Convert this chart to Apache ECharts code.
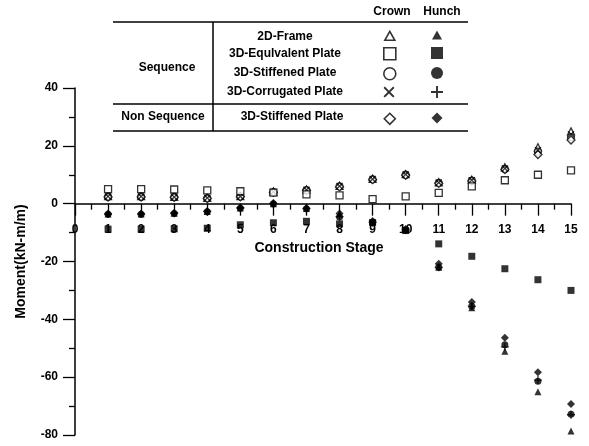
<!DOCTYPE html>
<html>
<head>
<meta charset="utf-8">
<script src="https://cdn.jsdelivr.net/npm/echarts@6/dist/echarts.min.js"></script>
<style>
html,body{margin:0;padding:0;background:#fff;}
#chart{width:589px;height:446px;}
</style>
</head>
<body>
<div id="chart"></div>
<script>
const stages = [1, 2, 3, 4, 5, 6, 7, 8, 9, 10, 11, 12, 13, 14, 15];
const xTicks = [0, 1, 2, 3, 4, 5, 6, 7, 8, 9, 10, 11, 12, 13, 14, 15];
const yTicks = [-80, -60, -40, -20, 0, 20, 40];

const frame2dCrown = [2.6, 2.6, 2.4, 2.0, 2.6, 4.2, 4.9, 6.2, 8.6, 10.2, 7.4, 8.3, 12.6, 19.5, 25.0];
const frame2dHunch = [-3.6, -3.6, -3.3, -2.7, -1.5, 0.0, -1.7, -3.6, -6.2, -9.0, -22.0, -36.0, -51.0, -65.0, -78.6];
const equivCrown = [5.0, 5.0, 4.9, 4.6, 4.3, 3.8, 3.2, 2.9, 1.6, 2.5, 3.7, 6.0, 8.1, 10.0, 11.5];
const equivHunch = [-8.8, -8.8, -8.7, -8.5, -7.3, -6.6, -6.1, -7.0, -6.5, -9.3, -13.9, -18.2, -22.5, -26.3, -30.0];
const stiffCrown = [2.4, 2.4, 2.3, 1.9, 2.5, 4.0, 4.7, 6.0, 8.4, 10.0, 7.2, 8.0, 12.0, 18.0, 23.0];
const stiffHunch = [-3.7, -3.7, -3.4, -2.8, -1.6, -0.1, -1.8, -4.6, -6.6, -9.2, -22.0, -35.5, -48.8, -61.4, -72.8];
const corrCrown = [2.5, 2.5, 2.3, 2.0, 2.5, 4.1, 4.8, 6.1, 8.5, 10.1, 7.3, 8.1, 12.2, 18.5, 24.0];
const corrHunch = [-3.6, -3.6, -3.3, -2.7, -1.5, 0.0, -1.7, -4.5, -6.5, -9.1, -22.0, -35.5, -49.5, -61.0, -73.0];
const nsStiffCrown = [2.3, 2.3, 2.2, 1.8, 2.4, 3.9, 4.6, 5.8, 8.3, 9.8, 7.0, 7.8, 11.8, 17.0, 22.0];
const nsStiffHunch = [-3.5, -3.5, -3.2, -2.6, -1.4, 0.2, -1.6, -3.4, -6.0, -8.8, -20.8, -34.0, -46.4, -58.3, -69.3];

const FONT = '"Liberation Sans", Arial, sans-serif';
const CROSS = 'path://M0,2.5 L2.5,0 L10,7.5 L17.5,0 L20,2.5 L12.5,10 L20,17.5 L17.5,20 L10,12.5 L2.5,20 L0,17.5 L7.5,10 Z';
const PLUS = 'path://M8.4,0 H11.6 V8.4 H20 V11.6 H11.6 V20 H8.4 V11.6 H0 V8.4 H8.4 Z';
const hollow = {color: '#fff', borderColor: '#000', borderWidth: 1.3};
const solid = {color: '#000', borderWidth: 0};

const seriesDefs = [
  {name: '2D-Frame Crown', data: frame2dCrown, symbol: 'triangle', size: 7, style: hollow},
  {name: '3D-Stiffened Plate Crown', data: stiffCrown, symbol: 'circle', size: 7, style: hollow},
  {name: 'Non Sequence 3D-Stiffened Plate Crown', data: nsStiffCrown, symbol: 'diamond', size: 8, style: hollow},
  {name: '3D-Corrugated Plate Crown', data: corrCrown, symbol: CROSS, size: 7, style: solid},
  {name: '3D-Equlvalent Plate Crown', data: equivCrown, symbol: 'rect', size: 7, style: hollow},
  {name: '3D-Equlvalent Plate Hunch', data: equivHunch, symbol: 'rect', size: 7, style: solid},
  {name: '2D-Frame Hunch', data: frame2dHunch, symbol: 'triangle', size: 7, style: solid},
  {name: '3D-Corrugated Plate Hunch', data: corrHunch, symbol: PLUS, size: 8, style: solid},
  {name: '3D-Stiffened Plate Hunch', data: stiffHunch, symbol: 'circle', size: 7, style: solid},
  {name: 'Non Sequence 3D-Stiffened Plate Hunch', data: nsStiffHunch, symbol: 'diamond', size: 8, style: solid}
];

const series = seriesDefs.map(d => ({
  name: d.name,
  type: 'scatter',
  symbol: d.symbol,
  symbolSize: d.size,
  itemStyle: d.style,
  data: stages.map((s, i) => [s, d.data[i]]),
  emphasis: {disabled: true}
}));

const crownX = 389, hunchX = 437;
const legendCells = [
  {name: '2D-Frame Crown', icon: 'triangle', x: crownX, y: 35, w: 10, h: 9, style: {color: '#fff', borderColor: '#000', borderWidth: 1.6}},
  {name: '2D-Frame Hunch', icon: 'triangle', x: hunchX, y: 35, w: 10, h: 9, style: solid},
  {name: '3D-Equlvalent Plate Crown', icon: 'rect', x: crownX, y: 53, w: 12, h: 12, style: {color: '#fff', borderColor: '#000', borderWidth: 1.6}},
  {name: '3D-Equlvalent Plate Hunch', icon: 'rect', x: hunchX, y: 53, w: 12, h: 12, style: solid},
  {name: '3D-Stiffened Plate Crown', icon: 'circle', x: crownX, y: 73, w: 12, h: 12, style: {color: '#fff', borderColor: '#000', borderWidth: 1.6}},
  {name: '3D-Stiffened Plate Hunch', icon: 'circle', x: hunchX, y: 73, w: 12, h: 12, style: solid},
  {name: '3D-Corrugated Plate Crown', icon: CROSS, x: crownX, y: 92, w: 11, h: 11, style: solid},
  {name: '3D-Corrugated Plate Hunch', icon: PLUS, x: hunchX, y: 92, w: 12, h: 12, style: solid},
  {name: 'Non Sequence 3D-Stiffened Plate Crown', icon: 'diamond', x: crownX, y: 118, w: 11, h: 11, style: {color: '#fff', borderColor: '#000', borderWidth: 1.6}},
  {name: 'Non Sequence 3D-Stiffened Plate Hunch', icon: 'diamond', x: hunchX, y: 118, w: 11, h: 11, style: solid}
];
const legends = legendCells.map(c => ({
  show: true,
  selectedMode: false,
  left: c.x - c.w / 2,
  top: c.y - c.h / 2,
  itemWidth: c.w,
  itemHeight: c.h,
  padding: 0,
  itemGap: 0,
  formatter: () => '',
  textStyle: {fontSize: 1},
  data: [{name: c.name, icon: c.icon, itemStyle: c.style}]
}));

const txt = (text, x, y) => ({
  type: 'text', x: x, y: y,
  style: {text: text, textAlign: 'center', textVerticalAlign: 'middle', font: 'bold 12px ' + FONT, fill: '#000'}
});
const line = (x1, y1, x2, y2) => ({
  type: 'line', shape: {x1: x1, y1: y1, x2: x2, y2: y2},
  style: {stroke: '#000', lineWidth: 1.5}
});

const graphics = [
  txt('Crown', 392, 12), txt('Hunch', 442, 12),
  line(113, 22, 468, 22), line(113, 104, 468, 104), line(113, 131, 468, 131), line(213, 22, 213, 131),
  txt('Sequence', 167, 68),
  txt('2D-Frame', 285, 37),
  txt('3D-Equlvalent Plate', 285, 54),
  txt('3D-Stiffened Plate', 285, 73),
  txt('3D-Corrugated Plate', 285, 92),
  txt('Non Sequence', 163, 117),
  txt('3D-Stiffened Plate', 292, 117)
];

const chart = echarts.init(document.getElementById('chart'), null, {renderer: 'canvas'});
chart.setOption({
  animation: false,
  backgroundColor: '#fff',
  grid: {left: 75, right: 18, top: 88, bottom: 11, containLabel: false, outerBoundsMode: 'none'},
  legend: legends,
  graphic: graphics,
  xAxis: {
    type: 'value', min: 0, max: 15, interval: 1,
    axisLine: {onZero: true, lineStyle: {color: '#000', width: 1.5}},
    axisTick: {show: true, length: 12, lineStyle: {color: '#000', width: 1.3}},
    minorTick: {show: true, splitNumber: 2, length: 6, lineStyle: {color: '#000', width: 1.3}},
    splitLine: {show: false},
    axisLabel: {
      color: '#000', fontWeight: 'bold', fontSize: 12, fontFamily: FONT, margin: -211,
      formatter: v => xTicks.indexOf(v) >= 0 ? String(v) : ''
    },
    name: 'Construction Stage', nameLocation: 'middle', nameGap: -196,
    nameTextStyle: {color: '#000', fontWeight: 'bold', fontSize: 14, fontFamily: FONT, padding: [0, 8, 0, 0]}
  },
  yAxis: {
    type: 'value', min: -80, max: 40, interval: 20,
    axisLine: {show: true, onZero: false, lineStyle: {color: '#000', width: 1.5}},
    axisTick: {show: true, length: 12, lineStyle: {color: '#000', width: 1.3}},
    minorTick: {show: true, splitNumber: 2, length: 6, lineStyle: {color: '#000', width: 1.3}},
    splitLine: {show: false},
    axisLabel: {
      color: '#000', fontWeight: 'bold', fontSize: 12, fontFamily: FONT, margin: 17,
      formatter: v => yTicks.indexOf(v) >= 0 ? String(v) : ''
    },
    name: 'Moment(kN-m/m)', nameLocation: 'middle', nameGap: 47, nameRotate: 90,
    nameTextStyle: {color: '#000', fontWeight: 'bold', fontSize: 14, fontFamily: FONT}
  },
  series: series
});
</script>
</body>
</html>
